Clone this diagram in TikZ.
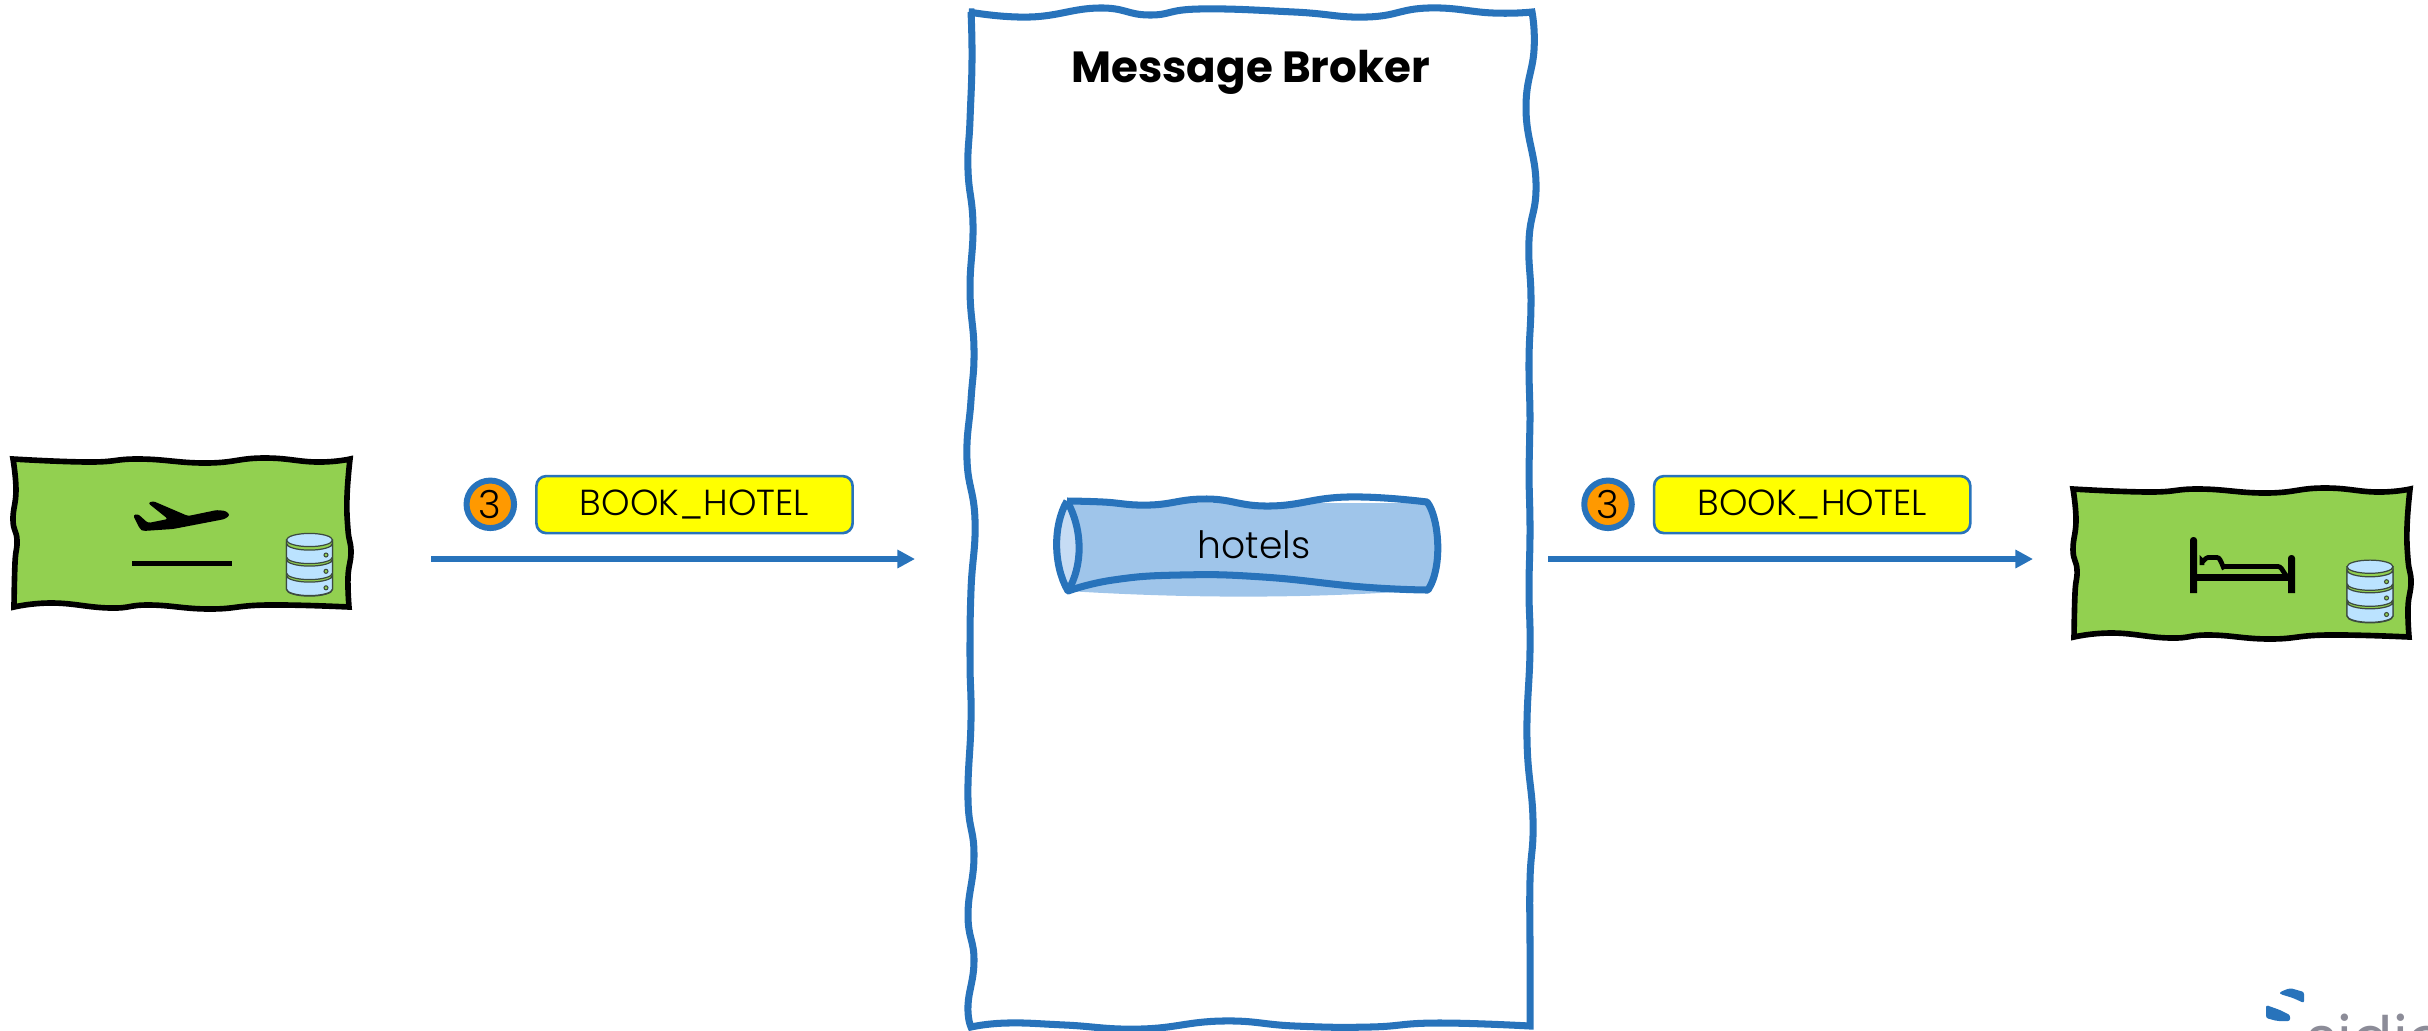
\documentclass[tikz,border=0pt]{standalone}
\usepackage{fontspec}
\setmainfont{Poppins}
\newfontfamily\lightfont{Poppins Light}
\usetikzlibrary{arrows.meta}

\definecolor{brokerblue}{HTML}{2873BB}
\definecolor{svcgreen}{HTML}{92D050}
\definecolor{msgyellow}{HTML}{FFFF00}
\definecolor{queuefill}{HTML}{9FC5EA}
\definecolor{queueend}{HTML}{C6DCF4}
\definecolor{dbblue}{HTML}{BBE3FF}
\definecolor{dbline}{HTML}{3C4A40}
\definecolor{stepfill}{HTML}{FF9900}
\definecolor{logogray}{HTML}{8C8C98}

\tikzset{
  svcbox/.style={draw=black, line width=1.6pt, fill=svcgreen, line join=miter},
  brokerbox/.style={draw=brokerblue, line width=2pt, line join=miter},
  queueline/.style={draw=brokerblue, line width=2pt, line join=round},
  msgarrow/.style={draw=brokerblue, line width=1.45pt, -{Triangle[length=5pt,width=5pt]}},
  msglabel/.style={rectangle, rounded corners=2.8pt, draw=brokerblue, line width=0.75pt, fill=msgyellow, minimum width=3.16cm, minimum height=0.57cm, inner sep=0pt, font=\fontsize{10.3pt}{12pt}\lightfont},
  stepmark/.style={circle, draw=brokerblue, line width=1.7pt, fill=stepfill, minimum size=0.475cm, inner sep=0pt, font=\fontsize{11pt}{13pt}\lightfont},
  dbpart/.style={draw=dbline, line width=0.35pt, fill=dbblue},
  dbdot/.style={draw=dbline, line width=0.3pt, fill=svcgreen},
}

% Wavy outline of a service, drawn at its left position
\newcommand{\svcoutline}{
     \filldraw[svcbox] plot[smooth, tension=0.8] coordinates {(13,459) (90,462) (140,459) (207,463) (263,458) (317,462) (350,459)}
       -- plot[smooth, tension=0.8] coordinates {(350,459) (347,497) (348,530) (351,552) (348,577) (349,607)}
       -- plot[smooth, tension=0.8] coordinates {(349,607) (267,605) (210,609) (150,605) (110,608) (53,603) (14,607)}
       -- plot[smooth, tension=0.8] coordinates {(14,607) (15,563) (17,540) (13,520) (16,490) (13,459)} -- cycle;
}

% Three discs of the small database
\newcommand{\dbstack}{
     \filldraw[dbpart, fill=svcgreen] (286.5,540) -- (286.5,589.5) arc[start angle=180, end angle=0, x radius=23, y radius=6.6] -- (332.5,540) -- cycle;
     \foreach \y in {543.5,559.5,575.5} {
       \filldraw[dbpart] (286.5,\y) -- ++(0,13.5) arc[start angle=180, end angle=0, x radius=23, y radius=6.6] -- ++(0,-13.5) arc[start angle=0, end angle=180, x radius=23, y radius=6.6] -- cycle;
     }
     \filldraw[dbpart] (309.5,540) ellipse[x radius=23, y radius=6.6];
     \filldraw[dbdot] (326,555) circle[radius=2];
     \filldraw[dbdot] (326,571.3) circle[radius=2];
     \filldraw[dbdot] (326,587.8) circle[radius=2];
}

\begin{document}
\begin{tikzpicture}[x=0.01cm, y=-0.01cm]

     \clip (0,0) rectangle (2428,1030);

     % Flight service
     \svcoutline
     \dbstack
     \fill[rounded corners=0.7pt] (133,515) -- (138,514) -- (148,523) -- (168,519) -- (148,503) -- (153,501) -- (188,516) -- (217,510) -- (226,511) -- (230,515) -- (225,519) -- (173,529) -- (143,531) -- (140,529) -- cycle;
     \fill (132,561) rectangle (232,565.5);

     % Hotel service
     \begin{scope}[shift={(2060,30)}]
       \svcoutline
     \end{scope}
     \begin{scope}[shift={(2060.5,26.7)}]
       \dbstack
     \end{scope}
     \fill (2190,593) [rounded corners=0.9pt] -- (2190,537) -- (2197,537) [sharp corners] -- (2197,593) -- cycle;
     \fill (2288,593) [rounded corners=0.9pt] -- (2288,555) -- (2295,555) [sharp corners] -- (2295,593) -- cycle;
     \fill (2197,574) rectangle (2288,580.5);
     \draw[line width=1.35pt] (2202,565) -- (2202,561) to[out=-90, in=180] (2208,557.5) -- (2217,557.5) to[out=0, in=-100] (2224,566.5) -- (2278,566.5) to[out=0, in=-120] (2288,575);

     % Broker
     \draw[brokerbox] plot[smooth, tension=0.8] coordinates {(969,12) (1030,17) (1099,8) (1149,15) (1199,9) (1294,12) (1367,17) (1428,8) (1493,13) (1532,12)}
       -- plot[smooth, tension=0.8] coordinates {(1532,12) (1534,50) (1526,110) (1536,183) (1529,240) (1531,300) (1529,360) (1530,420) (1529,470) (1530,530) (1529,590) (1530,650) (1527,740) (1533,820) (1530,880) (1530,950) (1530,1026)}
       -- plot[smooth, tension=0.8] coordinates {(1530,1026) (1436,1023) (1370,1027) (1295,1026) (1222,1021) (1141,1029) (1065,1025) (1007,1023) (971,1027)}
       -- plot[smooth, tension=0.8] coordinates {(971,1027) (968,1005) (974,960) (968,915) (974,855) (968,800) (971,720) (970,660) (971,590) (975,520) (967,460) (971,400) (974,350) (970,290) (973,225) (968,170) (970,120) (972,60) (971,12)} -- cycle;
     \node[inner sep=0pt, anchor=base, font=\fontsize{12.4pt}{15pt}\selectfont\bfseries] (brokertitle) at (1250.5,82) {Message Broker};

     % Queue
     \fill[queuefill] (1068,503) -- (1428,503) .. controls (1442,530) and (1442,565) .. (1428,590) .. controls (1330,597) and (1213,600) .. (1068,591) -- cycle;
     \filldraw[queueline, fill=queueend] (1067,501) .. controls (1083,530) and (1083,565) .. (1068,591) .. controls (1053,565) and (1053,525) .. (1067,501);
     \draw[queueline] plot[smooth, tension=0.8] coordinates {(1067,501) (1103,502) (1150,505) (1207,499) (1270,506) (1347,497) (1427,502)}
       .. controls (1438,515) and (1444,565) .. (1428,590)
       -- plot[smooth, tension=0.8] coordinates {(1428,590) (1363,587) (1263,577) (1180,575) (1113,580) (1068,591)};
     \node[inner sep=0pt, font=\fontsize{10.7pt}{13pt}\lightfont] (hotels) at (1254,545) {hotels};

     % Left message
     \node[stepmark] (stepa) at (490.3,504.3) {3};
     \node[msglabel] (msga) at (694.5,504.6) {BOOK\_HOTEL};
     \coordinate (flightout) at (431,559);
     \coordinate (brokerin) at (915,559);
     \draw[msgarrow] (flightout) -- (brokerin);

     % Right message
     \node[stepmark] (stepb) at (1608,504.3) {3};
     \node[msglabel] (msgb) at (1812.2,504.6) {BOOK\_HOTEL};
     \coordinate (brokerout) at (1548,559);
     \coordinate (hotelin) at (2033,559);
     \draw[msgarrow] (brokerout) -- (hotelin);

     % Logo
     \fill[brokerblue, rounded corners=0.6pt] (2280,992) -- (2290,988) -- (2304,992) -- (2304,1003) -- (2293,998) -- (2280,994) -- cycle;
     \fill[brokerblue, rounded corners=0.6pt] (2266,1005) -- (2280,1010) -- (2290,1015) -- (2290,1021) -- (2277,1021) -- (2266,1018) -- cycle;
     \node[inner sep=0pt, anchor=base west, text=logogray, font=\fontsize{17pt}{20pt}\selectfont] (logotext) at (2306,1059) {sidio};

\end{tikzpicture}
\end{document}
